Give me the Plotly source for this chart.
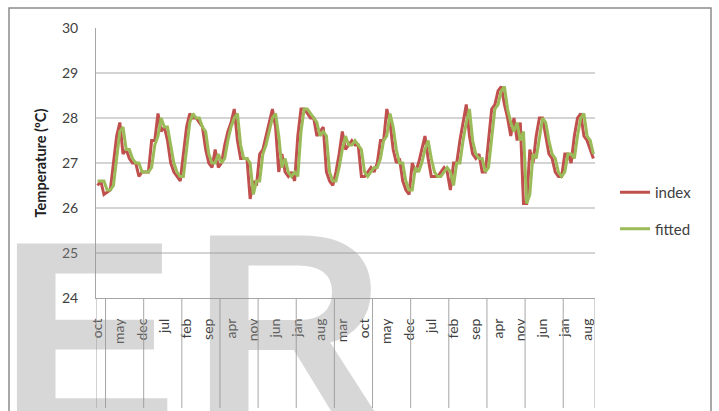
import plotly.graph_objects as go

# Monthly temperature index and the fitted model, October start
index_vals = [
    26.5, 26.6, 26.3, 26.35, 26.4, 27.0, 27.6, 27.9, 27.2, 27.3,
    27.1, 27.0, 27.0, 26.7, 26.8, 26.8, 26.8, 27.5, 27.5, 28.1,
    27.7, 27.8, 27.5, 27.0, 26.8, 26.7, 26.6, 27.2, 27.8, 28.1,
    28.0, 28.0, 27.9, 27.8, 27.3, 27.0, 26.9, 27.3, 26.9, 27.0,
    27.4, 27.7, 27.9, 28.2, 27.5, 27.1, 27.1, 27.1, 26.2, 26.6,
    26.5, 27.2, 27.3, 27.6, 27.9, 28.2, 27.8, 26.8, 27.2, 26.8,
    26.7, 26.8, 26.6, 27.6, 28.2, 28.2, 28.1, 28.0, 28.0, 27.6,
    27.7, 27.8, 26.8, 26.6, 26.5, 26.8, 27.2, 27.7, 27.3, 27.4,
    27.5, 27.4, 27.4, 26.7, 26.7, 26.8, 26.9, 26.8, 27.0, 27.5,
    27.5, 28.2, 27.9, 27.3, 27.0, 27.1, 26.6, 26.4, 26.3, 27.0,
    26.8, 27.0, 27.3, 27.6, 27.1, 26.7, 26.7, 26.7, 26.8, 26.9,
    26.8, 26.4, 27.0, 27.0, 27.5, 27.9, 28.3, 27.6, 27.2, 27.1,
    27.2, 26.8, 26.8, 27.5, 28.2, 28.3, 28.6, 28.7, 28.3, 28.0,
    27.6, 28.0, 27.5, 27.9, 26.1, 26.1, 27.3, 27.0, 27.6, 28.0,
    28.0, 27.6, 27.2, 27.1, 26.8, 26.7, 26.7, 27.2, 27.2, 27.0,
    27.6, 28.0, 28.1, 27.6, 27.5, 27.3, 27.1,
]

fitted_vals = [
    26.6, 26.6, 26.6, 26.4, 26.4, 26.5, 27.1, 27.7, 27.8, 27.3,
    27.3, 27.1, 27.0, 27.0, 26.8, 26.8, 26.8, 26.9, 27.4, 27.6,
    28.0, 27.8, 27.8, 27.4, 27.0, 26.8, 26.7, 26.7, 27.3, 27.9,
    28.1, 28.0, 28.0, 27.8, 27.7, 27.2, 27.0, 27.0, 27.2, 27.0,
    27.1, 27.5, 27.8, 28.0, 28.1, 27.4, 27.1, 27.1, 27.0, 26.3,
    26.6, 26.6, 27.2, 27.4, 27.7, 28.0, 28.1, 27.6, 26.9, 27.1,
    26.8, 26.7, 26.8, 26.7, 27.7, 28.2, 28.2, 28.1, 28.0, 27.9,
    27.6, 27.7, 27.6, 26.8, 26.6, 26.6, 26.9, 27.3, 27.6, 27.4,
    27.4, 27.5, 27.4, 27.3, 26.8, 26.7, 26.8, 26.9, 26.9, 27.1,
    27.5, 27.6, 28.1, 27.8, 27.3, 27.0, 27.0, 26.6, 26.4, 26.4,
    26.9, 26.8, 27.0, 27.3, 27.5, 27.1, 26.8, 26.7, 26.7, 26.8,
    26.9, 26.8, 26.5, 27.0, 27.0, 27.5, 27.9, 28.2, 27.5, 27.2,
    27.1, 27.1, 26.8, 26.9, 27.6, 28.2, 28.3, 28.6, 28.7, 28.2,
    27.9, 27.7, 27.9, 27.5, 27.7, 26.1, 26.3, 27.2, 27.1, 27.6,
    28.0, 27.9, 27.5, 27.2, 27.1, 26.8, 26.7, 26.8, 27.2, 27.2,
    27.1, 27.6, 28.0, 28.1, 27.6, 27.5, 27.2,
]

tick_labels = [
    "oct", "may", "dec", "jul", "feb", "sep", "apr", "nov", "jun", "jan",
    "aug", "mar", "oct", "may", "dec", "jul", "feb", "sep", "apr", "nov",
    "jun", "jan", "aug",
]

y_ticks = [24, 25, 26, 27, 28, 29, 30]

START_MONTH = 10      # series begins in October
TICK_STEP = 7         # a month label every seven months

W, H = 719, 411
ML, MR, MT, MB = 96, 124, 28, 113
PW, PH = W - ML - MR, H - MT - MB


def px_x(px):
    return (px - ML) / PW


def px_y(py):
    return (H - MB - py) / PH


n = len(index_vals)
x = list(range(n))
tickvals = list(range(0, TICK_STEP * len(tick_labels), TICK_STEP))

# year separators under the axis: before each January plus both ends
year_edges = [-0.5] + [i - 0.5 for i in range(n) if (START_MONTH - 1 + i) % 12 == 0] + [n - 0.5]

FONT = "Lato, 'Open Sans', sans-serif"
TEXT = "#404040"
AXIS = "#a6a6a6"
MARK = "rgba(150,150,150,0.38)"

fig = go.Figure()
fig.add_trace(go.Scatter(
    x=x, y=index_vals, mode="lines", name="index",
    line=dict(color="#c0504d", width=3), legendgroup="a",
))
fig.add_trace(go.Scatter(
    x=x, y=fitted_vals, mode="lines", name="fitted",
    line=dict(color="#9bbb59", width=3), legendgroup="b",
))

shapes = []
for e in year_edges:
    shapes.append(dict(
        type="line", xref="x", yref="paper", x0=e, x1=e,
        y0=0, y1=px_y(408), line=dict(color=AXIS, width=1), layer="above",
    ))
# outer chart frame
shapes.append(dict(
    type="rect", xref="paper", yref="paper",
    x0=px_x(9), x1=px_x(711), y0=px_y(440), y1=px_y(8),
    line=dict(color="#8c8c8c", width=1.5), fillcolor="rgba(0,0,0,0)",
))

annotations = [
    dict(text="E", xref="paper", yref="paper", x=px_x(-3), y=px_y(183),
         xanchor="left", yanchor="top", showarrow=False,
         font=dict(family="Liberation Sans", size=268, color=MARK, weight="bold")),
    dict(text="R", xref="paper", yref="paper", x=px_x(190), y=px_y(175),
         xanchor="left", yanchor="top", showarrow=False,
         font=dict(family="Liberation Sans", size=268, color=MARK, weight="bold")),
]

fig.update_layout(
    width=W, height=H,
    margin=dict(l=ML, r=MR, t=MT, b=MB, pad=0),
    paper_bgcolor="white", plot_bgcolor="white",
    font=dict(family=FONT, color=TEXT),
    showlegend=True,
    legend=dict(
        x=px_x(615), y=px_y(176), xanchor="left", yanchor="top",
        font=dict(size=15, color=TEXT), tracegroupgap=14,
        bgcolor="rgba(0,0,0,0)", borderwidth=0, itemwidth=30,
    ),
    shapes=shapes,
    annotations=annotations,
    xaxis=dict(
        range=[-0.5, n - 0.5], tickmode="array", tickvals=tickvals, ticktext=tick_labels,
        tickangle=-90, tickfont=dict(size=14, color=TEXT), ticks="",
        showgrid=False, zeroline=False, showline=True, linecolor=AXIS, linewidth=1,
        ticklabelstandoff=14,
    ),
    yaxis=dict(
        range=[24, 30], tickmode="array", tickvals=y_ticks,
        tickfont=dict(size=14, color=TEXT), ticks="",
        showgrid=True, gridcolor="#d4d4d4", gridwidth=1.5, zeroline=False,
        showline=True, linecolor=AXIS, linewidth=1, ticklabelstandoff=14,
        title=dict(text="<b>Temperature (ºC)</b>", font=dict(size=14.5, color="#202020"), standoff=11),
    ),
)

fig.write_html("out.html")
